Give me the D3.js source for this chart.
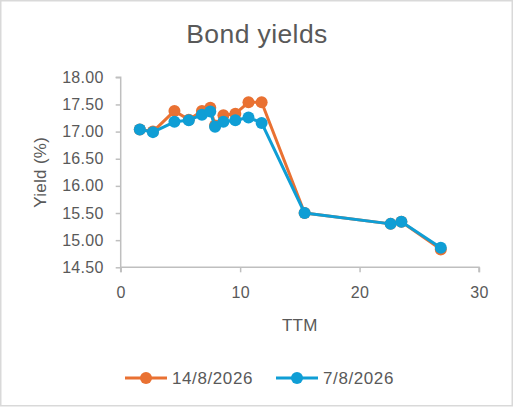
<!DOCTYPE html>
<html lang="en">

<head>
    <meta charset="UTF-8">
    <title>Bond yields</title>
    <script src="https://d3js.org/d3.v7.min.js"></script>
    <style>
        body,
        html {
            margin: 0;
            padding: 0;
            background: #fff;
            font-family: "Liberation Sans", Arial, sans-serif;
        }

        .axis text {
            fill: #595959;
            font-size: 16px;
            letter-spacing: 0.3px;
        }

        .axis path,
        .axis line {
            stroke: #bfbfbf;
            stroke-width: 1.5px;
        }
    </style>
</head>

<body>
    <svg width="513" height="408" id="chart"></svg>

    <script>
        // time to maturity (years)
        const ttm = [1.6, 2.7, 4.5, 5.7, 6.8, 7.5, 7.9, 8.6, 9.6, 10.7, 11.8, 15.4, 22.6, 23.5, 26.8];
        // yields for each date (%)
        const yield14Aug = [17.04, 17.00, 17.38, 17.22, 17.38, 17.44, 17.11, 17.30, 17.33, 17.54, 17.54, 15.50, 15.30, 15.34, 14.83];
        const yield7Aug = [17.04, 16.99, 17.18, 17.21, 17.31, 17.37, 17.09, 17.18, 17.21, 17.26, 17.16, 15.50, 15.30, 15.34, 14.86];

        const seriesNames = ["14/8/2026", "7/8/2026"];
        const seriesColors = ["#e97132", "#0f9ed5"];
        const xTicks = [0, 10, 20, 30];
        const yTicks = [14.5, 15, 15.5, 16, 16.5, 17, 17.5, 18];

        const svg = d3.select("#chart");

        // chart frame
        svg.append("rect")
            .attr("x", 0.75).attr("y", 0.75)
            .attr("width", 511.5).attr("height", 405)
            .attr("fill", "#fff")
            .attr("stroke", "#d9d9d9")
            .attr("stroke-width", 1.5);

        const x = d3.scaleLinear().domain([0, 30]).range([120.7, 479]);
        const y = d3.scaleLinear().domain([14.5, 18]).range([267.3, 77.3]);

        // y axis
        svg.append("g")
            .attr("class", "axis")
            .attr("transform", "translate(120.7,0)")
            .call(d3.axisLeft(y).tickValues(yTicks).tickFormat(d3.format(".2f")).tickSize(5).tickPadding(12))
            .call(g => g.select(".domain").attr("d", `M-5,${y(18)}H0V${y(14.5)}`));

        // x axis
        svg.append("g")
            .attr("class", "axis")
            .attr("transform", `translate(0,${y(14.5)})`)
            .call(d3.axisBottom(x).tickValues(xTicks).tickSize(5).tickPadding(14))
            .call(g => g.select(".domain").attr("d", `M${x(0)},5V0H${x(30)}V5`));

        // title + axis titles
        svg.append("text")
            .attr("x", 257).attr("y", 43)
            .attr("text-anchor", "middle")
            .attr("fill", "#595959")
            .style("font-size", "26.5px")
            .style("letter-spacing", "0.4px")
            .text("Bond yields");

        svg.append("text")
            .attr("transform", `translate(46,${(y(18) + y(14.5)) / 2}) rotate(-90)`)
            .attr("text-anchor", "middle")
            .attr("fill", "#595959")
            .style("font-size", "17px")
            .style("letter-spacing", "0.3px")
            .text("Yield (%)");

        svg.append("text")
            .attr("x", (x(0) + x(30)) / 2).attr("y", 331)
            .attr("text-anchor", "middle")
            .attr("fill", "#595959")
            .style("font-size", "17px")
            .style("letter-spacing", "0.3px")
            .text("TTM");

        // series
        const series = [yield14Aug, yield7Aug];
        const line = d3.line()
            .x((d, i) => x(ttm[i]))
            .y(d => y(d));

        series.forEach((vals, k) => {
            const g = svg.append("g");
            g.append("path")
                .datum(vals)
                .attr("fill", "none")
                .attr("stroke", seriesColors[k])
                .attr("stroke-width", 3)
                .attr("stroke-linejoin", "round")
                .attr("d", line);
            g.selectAll("circle")
                .data(vals)
                .enter()
                .append("circle")
                .attr("cx", (d, i) => x(ttm[i]))
                .attr("cy", d => y(d))
                .attr("r", 6)
                .attr("fill", seriesColors[k]);
        });

        // legend
        const legendX = [125, 276];
        const legend = svg.selectAll(".legend")
            .data(seriesNames)
            .enter()
            .append("g")
            .attr("class", "legend")
            .attr("transform", (d, i) => `translate(${legendX[i]},378)`);
        legend.append("line")
            .attr("x1", 0).attr("x2", 42)
            .attr("stroke", (d, i) => seriesColors[i])
            .attr("stroke-width", 3);
        legend.append("circle")
            .attr("cx", 21).attr("r", 6)
            .attr("fill", (d, i) => seriesColors[i]);
        legend.append("text")
            .attr("x", 47).attr("y", 6)
            .attr("fill", "#595959")
            .style("font-size", "17px")
            .style("letter-spacing", "0.6px")
            .text(d => d);
    </script>
</body>

</html>
